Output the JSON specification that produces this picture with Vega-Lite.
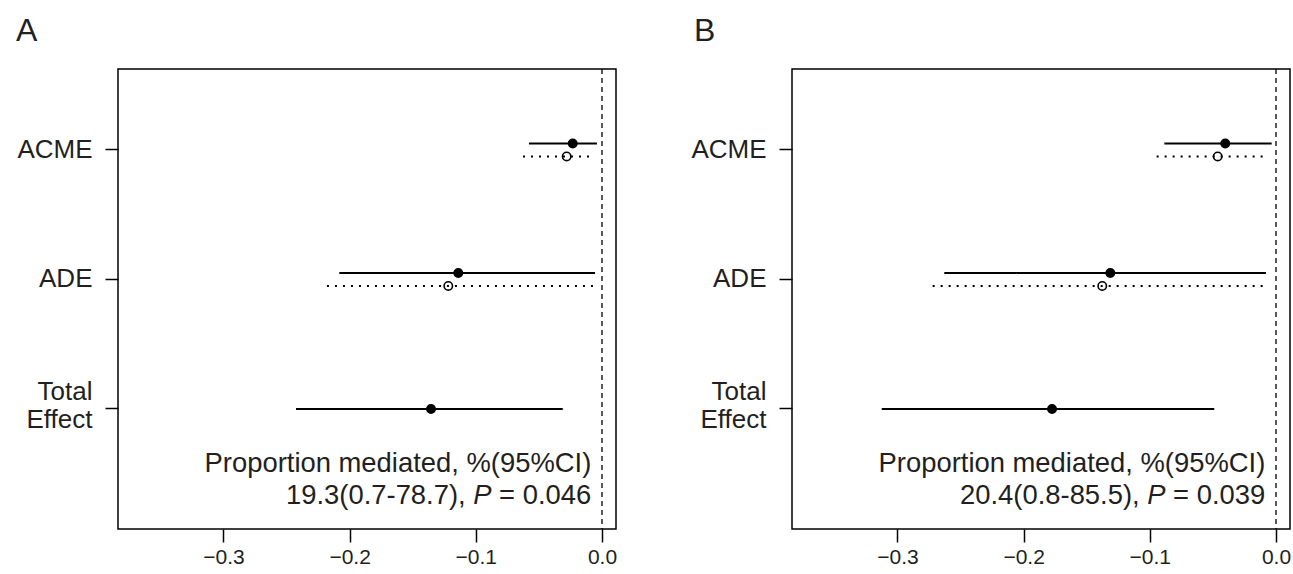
{
  "$schema": "https://vega.github.io/schema/vega-lite/v6.json",
  "padding": {"left": 0, "top": 14, "right": 0, "bottom": 0},
  "background": "white",
  "config": {
    "font": "Liberation Sans",
    "view": {"stroke": "black", "strokeWidth": 1.5},
    "axis": {"domain": false, "grid": false, "tickColor": "black", "tickWidth": 1.5, "labelColor": "#231f20", "labelFont": "Liberation Sans", "title": null},
    "title": {"font": "Liberation Sans", "fontSize": 32, "fontWeight": "normal", "color": "#231f20", "anchor": "start", "frame": "group", "baseline": "alphabetic", "offset": 20}
  },
  "data": {"values": [
    {"panel": "A", "effect": "ACME", "arm": "treated", "est": -0.0232, "lo": -0.0579, "hi": -0.0040},
    {"panel": "A", "effect": "ACME", "arm": "control", "est": -0.0280, "lo": -0.0626, "hi": -0.0082},
    {"panel": "A", "effect": "ADE", "arm": "treated", "est": -0.1139, "lo": -0.2082, "hi": -0.0055},
    {"panel": "A", "effect": "ADE", "arm": "control", "est": -0.1218, "lo": -0.2180, "hi": -0.0061},
    {"panel": "A", "effect": "Total Effect", "arm": "total", "est": -0.1355, "lo": -0.2425, "hi": -0.0311},
    {"panel": "B", "effect": "ACME", "arm": "treated", "est": -0.0402, "lo": -0.0885, "hi": -0.0034},
    {"panel": "B", "effect": "ACME", "arm": "control", "est": -0.0462, "lo": -0.0946, "hi": -0.0087},
    {"panel": "B", "effect": "ADE", "arm": "treated", "est": -0.1313, "lo": -0.2629, "hi": -0.0079},
    {"panel": "B", "effect": "ADE", "arm": "control", "est": -0.1377, "lo": -0.2721, "hi": -0.0087},
    {"panel": "B", "effect": "Total Effect", "arm": "total", "est": -0.1775, "lo": -0.3125, "hi": -0.0489}
  ]},
  "spacing": 56,
  "hconcat": [
    {
      "width": 498, "height": 460,
      "title": {"text": "A", "dx": -102},
      "resolve": {"scale": {"y": "independent"}},
      "layer": [
        {
          "transform": [{"filter": "datum.panel === 'A'"}],
          "encoding": {
            "y": {"field": "effect", "type": "nominal",
                  "scale": {"type": "band", "domain": ["ACME", "ADE", "Total Effect"], "paddingInner": 0, "paddingOuter": 0.276, "align": 0.227},
                  "axis": {"bandPosition": 0.5, "labelExpr": "datum.value == 'Total Effect' ? ['Total', 'Effect'] : datum.value", "labelFontSize": 26, "labelLineHeight": 28, "labelOffset": {"condition": {"test": "datum.value == 'Total Effect'", "value": -17}, "value": 0}, "tickSize": 13, "labelPadding": 13, "minExtent": 117, "maxExtent": 117}},
            "yOffset": {"field": "arm", "type": "nominal", "scale": {"type": "band", "domain": ["treated", "total", "control"], "range": [55, 74.5], "paddingInner": 0, "paddingOuter": 0}}
          },
          "layer": [
            {
              "mark": {"type": "rule", "color": "black", "strokeWidth": 2},
              "encoding": {
                "x": {"field": "lo", "type": "quantitative", "scale": {"domain": [-0.3836, 0.0111], "nice": false, "zero": false},
                      "axis": {"values": [-0.3, -0.2, -0.1, 0], "format": ".1f", "labelFontSize": 21, "tickSize": 13, "labelPadding": 4}},
                "x2": {"field": "hi"},
                "strokeDash": {"field": "arm", "type": "nominal", "scale": {"domain": ["treated", "total", "control"], "range": [[1, 0], [1, 0], [2, 6]]}, "legend": null}
              }
            },
            {
              "mark": {"type": "point", "filled": true, "stroke": "black", "strokeWidth": 1.6, "size": 70, "opacity": 1},
              "encoding": {
                "x": {"field": "est", "type": "quantitative"},
                "fill": {"field": "arm", "type": "nominal", "scale": {"domain": ["treated", "total", "control"], "range": ["black", "black", "transparent"]}, "legend": null}
              }
            }
          ]
        },
        {
          "data": {"values": [{}]},
          "encoding": {"y": {"datum": 0.51, "type": "quantitative", "scale": {"domain": [0.073, 3.625], "nice": false, "zero": false}, "axis": null}},
          "layer": [
            {
              "mark": {"type": "rule", "color": "black", "strokeWidth": 1.3, "strokeDash": [5, 4]},
              "encoding": {"x": {"datum": 0, "type": "quantitative"}, "y": null}
            },
            {
              "mark": {"type": "text", "text": "Proportion mediated, %(95%CI)", "align": "right", "baseline": "alphabetic", "fontSize": 27.4, "color": "#231f20"},
              "encoding": {"x": {"datum": -0.0085, "type": "quantitative"}}
            },
            {
              "mark": {"type": "text", "text": "= 0.046", "align": "right", "baseline": "alphabetic", "fontSize": 27.4, "color": "#231f20"},
              "encoding": {"x": {"datum": -0.0085, "type": "quantitative"}, "y": {"datum": 0.265, "type": "quantitative"}}
            },
            {
              "mark": {"type": "text", "text": "P", "align": "right", "baseline": "alphabetic", "fontSize": 27.4, "fontStyle": "italic", "color": "#231f20", "dx": -99.8},
              "encoding": {"x": {"datum": -0.0085, "type": "quantitative"}, "y": {"datum": 0.265, "type": "quantitative"}}
            },
            {
              "mark": {"type": "text", "text": "19.3(0.7-78.7),", "align": "right", "baseline": "alphabetic", "fontSize": 27.4, "color": "#231f20", "dx": -125.6},
              "encoding": {"x": {"datum": -0.0085, "type": "quantitative"}, "y": {"datum": 0.265, "type": "quantitative"}}
            }
          ]
        }
      ]
    },
    {
      "width": 498, "height": 460,
      "title": {"text": "B", "dx": -98},
      "resolve": {"scale": {"y": "independent"}},
      "layer": [
        {
          "transform": [{"filter": "datum.panel === 'B'"}],
          "encoding": {
            "y": {"field": "effect", "type": "nominal",
                  "scale": {"type": "band", "domain": ["ACME", "ADE", "Total Effect"], "paddingInner": 0, "paddingOuter": 0.276, "align": 0.227},
                  "axis": {"bandPosition": 0.5, "labelExpr": "datum.value == 'Total Effect' ? ['Total', 'Effect'] : datum.value", "labelFontSize": 26, "labelLineHeight": 28, "labelOffset": {"condition": {"test": "datum.value == 'Total Effect'", "value": -17}, "value": 0}, "tickSize": 13, "labelPadding": 13, "minExtent": 117, "maxExtent": 117}},
            "yOffset": {"field": "arm", "type": "nominal", "scale": {"type": "band", "domain": ["treated", "total", "control"], "range": [55, 74.5], "paddingInner": 0, "paddingOuter": 0}}
          },
          "layer": [
            {
              "mark": {"type": "rule", "color": "black", "strokeWidth": 2},
              "encoding": {
                "x": {"field": "lo", "type": "quantitative", "scale": {"domain": [-0.3836, 0.0111], "nice": false, "zero": false},
                      "axis": {"values": [-0.3, -0.2, -0.1, 0], "format": ".1f", "labelFontSize": 21, "tickSize": 13, "labelPadding": 4}},
                "x2": {"field": "hi"},
                "strokeDash": {"field": "arm", "type": "nominal", "scale": {"domain": ["treated", "total", "control"], "range": [[1, 0], [1, 0], [2, 6]]}, "legend": null}
              }
            },
            {
              "mark": {"type": "point", "filled": true, "stroke": "black", "strokeWidth": 1.6, "size": 70, "opacity": 1},
              "encoding": {
                "x": {"field": "est", "type": "quantitative"},
                "fill": {"field": "arm", "type": "nominal", "scale": {"domain": ["treated", "total", "control"], "range": ["black", "black", "transparent"]}, "legend": null}
              }
            }
          ]
        },
        {
          "data": {"values": [{}]},
          "encoding": {"y": {"datum": 0.51, "type": "quantitative", "scale": {"domain": [0.073, 3.625], "nice": false, "zero": false}, "axis": null}},
          "layer": [
            {
              "mark": {"type": "rule", "color": "black", "strokeWidth": 1.3, "strokeDash": [5, 4]},
              "encoding": {"x": {"datum": 0, "type": "quantitative"}, "y": null}
            },
            {
              "mark": {"type": "text", "text": "Proportion mediated, %(95%CI)", "align": "right", "baseline": "alphabetic", "fontSize": 27.4, "color": "#231f20"},
              "encoding": {"x": {"datum": -0.0085, "type": "quantitative"}}
            },
            {
              "mark": {"type": "text", "text": "= 0.039", "align": "right", "baseline": "alphabetic", "fontSize": 27.4, "color": "#231f20"},
              "encoding": {"x": {"datum": -0.0085, "type": "quantitative"}, "y": {"datum": 0.265, "type": "quantitative"}}
            },
            {
              "mark": {"type": "text", "text": "P", "align": "right", "baseline": "alphabetic", "fontSize": 27.4, "fontStyle": "italic", "color": "#231f20", "dx": -99.8},
              "encoding": {"x": {"datum": -0.0085, "type": "quantitative"}, "y": {"datum": 0.265, "type": "quantitative"}}
            },
            {
              "mark": {"type": "text", "text": "20.4(0.8-85.5),", "align": "right", "baseline": "alphabetic", "fontSize": 27.4, "color": "#231f20", "dx": -125.6},
              "encoding": {"x": {"datum": -0.0085, "type": "quantitative"}, "y": {"datum": 0.265, "type": "quantitative"}}
            }
          ]
        }
      ]
    }
  ]
}
